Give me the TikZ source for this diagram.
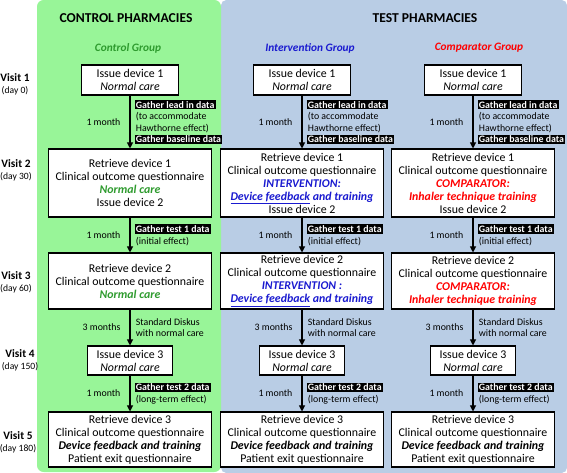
\documentclass[tikz,border=0pt]{standalone}
\usepackage{fontspec}
\setmainfont{Carlito}
\usetikzlibrary{arrows.meta,positioning,calc}

\definecolor{ctlpanel}{HTML}{98F598}
\definecolor{testpanel}{HTML}{B9CDE5}
\definecolor{ctltext}{HTML}{2E9B2E}
\definecolor{inttext}{HTML}{1A1AD0}
\definecolor{cmptext}{HTML}{FF0000}

\newcommand{\blackbar}[1]{\kern-1pt\colorbox{black}{\color{white}\bfseries #1}}
\setlength{\fboxsep}{1pt}

\tikzset{
    devbox/.style={draw, fill=white, line width=0.8pt, align=center, inner xsep=2pt, inner ysep=0.5pt,
        font=\fontsize{8.9}{9.75}\selectfont},
    narrowbox/.style={devbox, minimum width=72.75pt, minimum height=22.5pt},
    midbox/.style={devbox, minimum width=63.75pt, minimum height=21.75pt},
    widebox/.style={devbox, minimum width=122.25pt},
    arr/.style={-{Triangle[length=4.5pt,width=4.5pt]}, line width=0.8pt},
    gap/.style={inner sep=1pt, font=\fontsize{7.4}{8.7}\selectfont},
    note/.style={inner sep=0pt, align=left, font=\fontsize{7.4}{8.7}\selectfont},
    visit/.style={align=center, inner sep=0pt, font=\fontsize{7.2}{9}\selectfont},
    grouptitle/.style={font=\fontsize{8.5}{10}\selectfont\bfseries\itshape},
}

\begin{document}
\begin{tikzpicture}[x=0.75pt, y=-0.75pt]
        \useasboundingbox (0,0) rectangle (567,473);
        \fill[testpanel, rounded corners=4pt] (221,0) rectangle (567,473);
        \fill[ctlpanel, rounded corners=5pt] (37,0) rectangle (221,472);

        \node[font=\fontsize{10.2}{12}\selectfont\bfseries] (ctltitle) at (126,18) {CONTROL PHARMACIES};
        \node[font=\fontsize{10.2}{12}\selectfont\bfseries] (testtitle) at (425,18) {TEST PHARMACIES};

        \node[grouptitle, ctltext] (ctlgroup) at (128,48) {Control Group};
        \node[grouptitle, inttext] (intgroup) at (310,48) {Intervention Group};
        \node[grouptitle, cmptext] (cmpgroup) at (479,48) {Comparator Group};

        \node[visit] (visit1) at (15,84) {{\fontsize{8.5}{9}\selectfont\bfseries Visit 1}\\(day 0)};
        \node[visit] (visit2) at (16,170.5) {{\fontsize{8.5}{9}\selectfont\bfseries Visit 2}\\(day 30)};
        \node[visit] (visit3) at (16,282) {{\fontsize{8.5}{9}\selectfont\bfseries Visit 3}\\(day 60)};
        \node[visit] (visit4) at (20,360.5) {{\fontsize{8.5}{9}\selectfont\bfseries Visit 4}\\(day 150)};
        \node[visit] (visit5) at (18,442) {{\fontsize{8.5}{9}\selectfont\bfseries Visit 5}\\(day 180)};

        \foreach \c/\n in {130/ctl, 302/int, 473/cmp} {
            \node[narrowbox] (\n1) at (\c,80) {Issue device 1\\\textit{Normal care}};
            \node[midbox] (\n4) at (\c,360.5) {Issue device 3\\\textit{Normal care}};
            \node[widebox, minimum height=41.25pt] (\n5) at (\c,439.5) {Retrieve device 3\\Clinical outcome questionnaire\\
                \textbf{\textit{Device feedback and training}}\\Patient exit questionnaire};
        }

        \node[widebox, minimum height=51pt] (ctl2) at (130,183) {Retrieve device 1\\Clinical outcome questionnaire\\
            \textcolor{ctltext}{\textbf{\textit{Normal care}}}\\Issue device 2};
        \node[widebox, minimum height=51pt] (int2) at (302,183) {Retrieve device 1\\Clinical outcome questionnaire\\
            \textcolor{inttext}{\textbf{\textit{INTERVENTION:}}}\\\textcolor{inttext}{\textbf{\textit{\underline{Device feedback} and training}}}\\Issue device 2};
        \node[widebox, minimum height=51pt] (cmp2) at (473,183) {Retrieve device 1\\Clinical outcome questionnaire\\
            \textcolor{cmptext}{\textbf{\textit{COMPARATOR:}}}\\\textcolor{cmptext}{\textbf{\textit{Inhaler technique training}}}\\Issue device 2};

        \node[widebox, minimum height=42pt] (ctl3) at (130,281) {Retrieve device 2\\Clinical outcome questionnaire\\
            \textcolor{ctltext}{\textbf{\textit{Normal care}}}};
        \node[widebox, minimum height=42pt] (int3) at (302,281) {Retrieve device 2\\Clinical outcome questionnaire\\
            \textcolor{inttext}{\textbf{\textit{INTERVENTION :}}}\\\textcolor{inttext}{\textbf{\textit{\underline{Device feedback} and training}}}};
        \node[widebox, minimum height=42pt] (cmp3) at (473,281) {Retrieve device 2\\Clinical outcome questionnaire\\
            \textcolor{cmptext}{\textbf{\textit{COMPARATOR:}}}\\\textcolor{cmptext}{\textbf{\textit{Inhaler technique training}}}};

        \foreach \n in {ctl, int, cmp} {
            \draw[arr] (\n1) -- (\n2);
            \draw[arr] (\n2) -- (\n3);
            \draw[arr] (\n3) -- (\n4);
            \draw[arr] (\n4) -- (\n5);

            \coordinate (\n-m1) at ($(\n1.south)!0.5!(\n2.north)$);
            \coordinate (\n-m2) at ($(\n2.south)!0.5!(\n3.north)$);
            \coordinate (\n-m3) at ($(\n3.south)!0.5!(\n4.north)$);
            \coordinate (\n-m4) at ($(\n4.south)!0.5!(\n5.north)$);

            \node[gap, left=6pt of \n-m1] (\n-t1) {1 month};
            \node[gap, left=6pt of \n-m2] (\n-t2) {1 month};
            \node[gap, left=6pt of \n-m3] (\n-t3) {3 months};
            \node[gap, left=6pt of \n-m4] (\n-t4) {1 month};

            \node[note, right=4.2pt of \n-m1] (\n-d1) {\blackbar{Gather lead in data}\\(to accommodate\\Hawthorne effect)\\\blackbar{Gather baseline data}};
            \node[note, right=4.2pt of \n-m2] (\n-d2) {\blackbar{Gather test 1 data}\\(initial effect)};
            \node[note, right=4.2pt of \n-m3] (\n-d3) {Standard Diskus\\with normal care};
            \node[note, right=4.2pt of \n-m4] (\n-d4) {\blackbar{Gather test 2 data}\\(long-term effect)};
        }
    \end{tikzpicture}
\end{document}
